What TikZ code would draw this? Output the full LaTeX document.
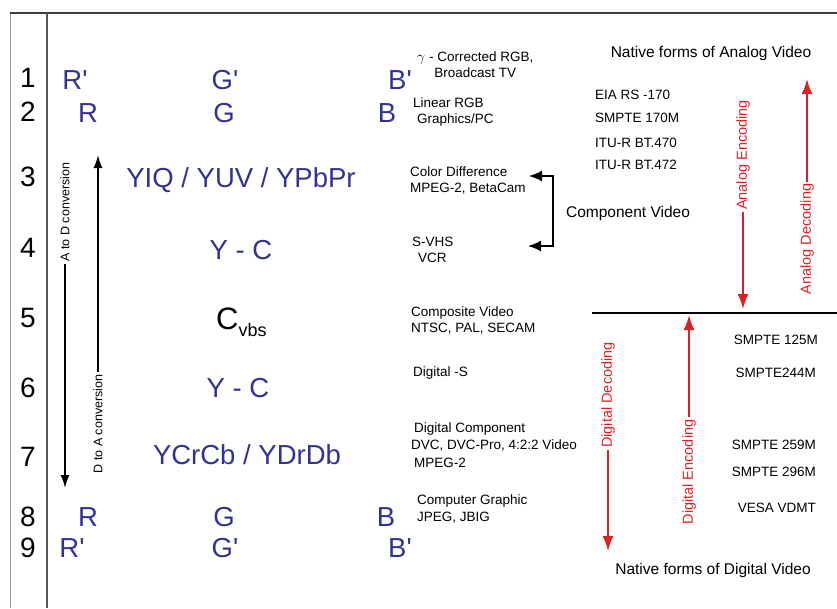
\documentclass[tikz,border=0pt]{standalone}
\usepackage{fontspec}
\setmainfont{Liberation Sans}
\usetikzlibrary{arrows.meta,positioning}
\definecolor{sigblue}{RGB}{50,50,150}
\definecolor{sigred}{RGB}{222,32,38}

\begin{document}
\begin{tikzpicture}[x=1pt,y=-1pt,
  rownum/.style={font=\fontsize{28}{30}\selectfont},
  sig/.style={text=sigblue,font=\fontsize{27.5}{30}\selectfont},
  note/.style={font=\fontsize{13.5}{16}\selectfont,align=left,anchor=west,inner sep=0pt},
  std/.style={font=\fontsize{13.5}{16}\selectfont,anchor=east,inner sep=0pt},
  heading/.style={font=\fontsize{15.5}{18}\selectfont},
  conv/.style={font=\fontsize{12.5}{14}\selectfont,rotate=90,inner sep=2pt},
  coding/.style={text=sigred,font=\fontsize{14.5}{16}\selectfont,rotate=90,inner sep=2pt},
  convarrow/.style={line width=1.6pt,-{Latex[length=13pt,width=9pt]}},
  redarrow/.style={draw=sigred,line width=2pt,-{Latex[length=15pt,width=11pt]}}]
  \useasboundingbox (0,0) rectangle (837,608);

  % frame
  \draw[black!40,line width=0.8pt] (10,13) -- (10,608);
  \draw[black!75,line width=1.5pt] (10,13) -- (837,13);
  \draw[black!65,line width=1.2pt] (47,13) -- (47,608);
  \draw[line width=1.8pt] (592,313) -- (837,313);

  % row numbers
  \foreach \n/\y in {1/78,2/112,3/177,4/248,5/318,6/388,7/457,8/517,9/548}
    \node[rownum] (row\n) at (28,\y) {\n};

  % signal forms
  \node[sig] (rp1) at (75,80) {R\textquotesingle};
  \node[sig] (gp1) at (225,80) {G\textquotesingle};
  \node[sig] (bp1) at (400,80) {B\textquotesingle};
  \node[sig] (r2) at (88,113) {R};
  \node[sig] (g2) at (224,113) {G};
  \node[sig] (b2) at (387,113) {B};
  \node[sig] (yiq) at (241,180) {YIQ / YUV / YPbPr};
  \node[sig] (yc4) at (241,250) {Y - C};
  \node[anchor=west,inner sep=0pt] (cvbs) at (216,322)
    {\fontsize{31}{32}\selectfont C\raisebox{-0.45ex}{\fontsize{18}{20}\selectfont vbs}};
  \node[sig] (yc6) at (238,388) {Y - C};
  \node[sig] (ycrcb) at (247,455) {YCrCb / YDrDb};
  \node[sig] (r8) at (88,517) {R};
  \node[sig] (g8) at (224,517) {G};
  \node[sig] (b8) at (386,517) {B};
  \node[sig] (rp9) at (72,548) {R\textquotesingle};
  \node[sig] (gp9) at (225,548) {G\textquotesingle};
  \node[sig] (bp9) at (400,548) {B\textquotesingle};

  % A/D and D/A conversion
  \node[conv] (atod) at (65,212) {A to D conversion};
  \coordinate (atodtip) at (65,488);
  \draw[convarrow] (atod.west) -- (atodtip);
  \node[conv] (dtoa) at (98,424) {D to A conversion};
  \coordinate (dtoatip) at (98,155);
  \draw[convarrow] (dtoa.east) -- (dtoatip);

  % descriptions
  \node[note,align=center] (gamma) at (417,65) {$\gamma$ - Corrected RGB,\\Broadcast TV};
  \node[note] (linrgb) at (413,112) {Linear RGB\\\hspace*{4pt}Graphics/PC};
  \node[note] (cdiff) at (410,180) {Color Difference\\MPEG-2, BetaCam};
  \node[note] (svhs) at (412,250) {S-VHS\\\hspace*{6pt}VCR};
  \node[note] (compo) at (411,320) {Composite Video\\NTSC, PAL, SECAM};
  \node[note] (dsig) at (413,373) {Digital -S};
  \node[note,font=\fontsize{13.5}{17.5}\selectfont] (dcomp) at (411,445)
    {\hspace*{3pt}Digital Component\\DVC, DVC-Pro, 4:2:2 Video\\\hspace*{3pt}MPEG-2};
  \node[note,font=\fontsize{13.5}{17.5}\selectfont] (cgraph) at (417,509) {Computer Graphic\\JPEG, JBIG};

  % component video bracket
  \coordinate (cdtip) at (529,176);
  \coordinate (svtip) at (528,246);
  \draw[{Latex[length=13pt,width=11pt]}-{Latex[length=13pt,width=11pt]},line width=1.8pt]
    (cdtip) -- ++(24,0) |- (svtip);
  \node[heading] (compvid) at (628,213) {Component Video};

  % analog standards
  \node[heading] (natana) at (711,53) {Native forms of Analog Video};
  \node[note] (eia) at (595,95) {EIA RS -170};
  \node[note] (s170) at (595,118) {SMPTE 170M};
  \node[note] (itu470) at (595,143) {ITU-R BT.470};
  \node[note] (itu472) at (595,165) {ITU-R BT.472};

  % digital standards
  \node[std] (s125) at (818,340) {SMPTE 125M};
  \node[std] (s244) at (816,373) {SMPTE244M};
  \node[std] (s259) at (816,445) {SMPTE 259M};
  \node[std] (s296) at (816,472) {SMPTE 296M};
  \node[std] (vesa) at (816,508) {VESA VDMT};
  \node[heading] (natdig) at (713,570) {Native forms of Digital Video};

  % encoding / decoding
  \node[coding] (aenc) at (743,155) {Analog Encoding};
  \coordinate (aenctip) at (743,309);
  \draw[redarrow] (aenc.west) -- (aenctip);
  \node[coding] (adec) at (807,239) {Analog Decoding};
  \coordinate (adectip) at (807,79);
  \draw[redarrow] (adec.east) -- (adectip);
  \node[coding] (ddec) at (608,395) {Digital Decoding};
  \coordinate (ddectip) at (608,551);
  \draw[redarrow] (ddec.west) -- (ddectip);
  \node[coding] (denc) at (689,472) {Digital Encoding};
  \coordinate (denctip) at (689,315);
  \draw[redarrow] (denc.east) -- (denctip);
\end{tikzpicture}
\end{document}
